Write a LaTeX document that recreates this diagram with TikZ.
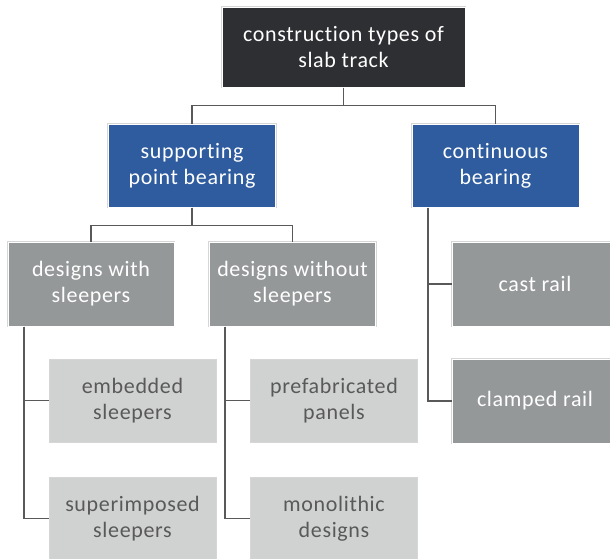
\documentclass[tikz,border=0pt]{standalone}
\usepackage{fontspec}
\setmainfont{Carlito}[Ligatures=NoCommon, LetterSpace=3]
\definecolor{topc}{HTML}{2E2F33}
\definecolor{bluec}{HTML}{2E5C9E}
\definecolor{midc}{HTML}{959899}
\definecolor{lightc}{HTML}{D0D1D1}
\definecolor{linec}{HTML}{595959}
\definecolor{halo}{HTML}{D6D6D6}
\tikzset{
  box/.style={rectangle, inner sep=0pt, align=center, font=\fontsize{22}{26}\selectfont,
    draw=white, line width=1pt, preaction={draw=halo, line width=2.6pt}},
  topbox/.style={box, fill=topc, text=white, minimum width=243pt, minimum height=80pt},
  bluebox/.style={box, fill=bluec, text=white, minimum width=167pt, minimum height=83pt},
  midbox/.style={box, fill=midc, text=white, minimum width=166pt, minimum height=84pt},
  lightbox/.style={rectangle, inner sep=0pt, align=center, font=\fontsize{22}{26}\selectfont,
    fill=lightc, text=linec, draw=halo, line width=0.8pt, minimum width=167pt, minimum height=83pt},
  conn/.style={draw=linec, line width=1.4pt}
}
\begin{document}
\begin{tikzpicture}[x=1pt,y=-1pt]
\useasboundingbox (0,0) rectangle (610,558);
\clip (0,0) rectangle (610,558);
\fill[white] (0,0) rectangle (610,558);
\node[topbox] (top) at (343.5,47) {construction types of\\slab track};
\node[bluebox] (sp) at (192,165.5) {supporting\\point bearing};
\node[bluebox] (cb) at (495.5,165.5) {continuous\\bearing};
\node[midbox] (dws) at (91,284) {designs with\\sleepers};
\node[midbox] (dwos) at (292.5,284) {designs without\\sleepers};
\node[midbox] (cast) at (535,284) {cast rail};
\node[midbox] (clamp) at (535,401) {clamped rail};
\node[lightbox] (emb) at (132.5,400.5) {embedded\\sleepers};
\node[lightbox] (sup) at (132.5,518.5) {superimposed\\sleepers};
\node[lightbox] (pre) at (334,400.5) {prefabricated\\panels};
\node[lightbox] (mono) at (334,518.5) {monolithic\\designs};
\draw[conn] (top.south) -- +(0,18) -| (sp.north);
\draw[conn] (top.south) -- +(0,18) -| (cb.north);
\draw[conn] (sp.south) -- +(0,18) -| (dws.north);
\draw[conn] (sp.south) -- +(0,18) -| (dwos.north);
\draw[conn] ([xshift=-67pt]dws.south) |- (emb.west);
\draw[conn] ([xshift=-67pt]dws.south) |- (sup.west);
\draw[conn] ([xshift=-67.5pt]dwos.south) |- (pre.west);
\draw[conn] ([xshift=-67.5pt]dwos.south) |- (mono.west);
\draw[conn] ([xshift=-67.5pt]cb.south) |- (cast.west);
\draw[conn] ([xshift=-67.5pt]cb.south) |- (clamp.west);
\end{tikzpicture}
\end{document}
